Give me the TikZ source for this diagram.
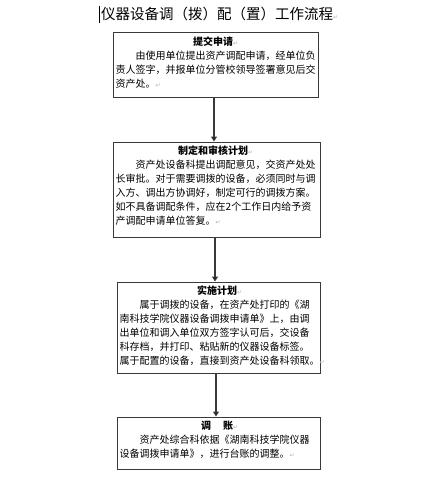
\documentclass[tikz,border=0pt]{standalone}
\usepackage{fontspec}
\setmainfont{Noto Sans CJK SC}
\newfontfamily\symfont{DejaVu Sans}
\usetikzlibrary{arrows.meta}
\newcommand{\rmark}{{\symfont\fontsize{6}{6}\selectfont\color{gray!60}↵}}
\newcommand{\ind}{\hspace*{20pt}}
\begin{document}
\begin{tikzpicture}[x=1pt,y=-1pt,
  box/.style={draw=gray!45!black, line width=1pt, rectangle, inner sep=0pt},
  body/.style={anchor=north west, inner sep=0pt, align=left, text width=200pt,
    font=\fontsize{10}{14}\selectfont},
  flow/.style={draw=gray!45!black, line width=1.2pt, -{Triangle[length=5pt,width=6pt,fill=black]}}
]
\useasboundingbox (0,0) rectangle (436,500);
\fill[white] (0,0) rectangle (436,500);

% title
\node[anchor=west, inner sep=0pt, font=\fontsize{14.5}{16}\selectfont] (title) at (101,14) {仪器设备调（拨）配（置）工作流程\rmark};
\draw[line width=0.8pt] ([xshift=-2pt,yshift=8pt]title.west) -- ([xshift=-2pt,yshift=-9pt]title.west);

% boxes
\node[box, minimum width=205pt, minimum height=65pt] (b1) at (215.5,65.5) {};
\node[box, minimum width=207pt, minimum height=95pt] (b2) at (216.5,189.5) {};
\node[box, minimum width=203pt, minimum height=91pt] (b3) at (218.5,327.5) {};
\node[box, minimum width=203pt, minimum height=52pt] (b4) at (218.5,443) {};

% texts
\node[body] (t1) at ([xshift=3pt,yshift=-4pt]b1.north west) {%
\makebox[200pt][c]{\textbf{提交申请}\rmark}\\
\ind 由使用单位提出资产调配申请，经单位负\\
责人签字，并报单位分管校领导签署意见后交\\
资产处。\rmark};

\node[body] (t2) at ([xshift=3pt,yshift=-4pt]b2.north west) {%
\makebox[200pt][c]{\textbf{制定和审核计划}\rmark}\\
\ind 资产处设备科提出调配意见，交资产处处\\
长审批。对于需要调拨的设备，必须同时与调\\
入方、调出方协调好，制定可行的调拨方案。\\
如不具备调配条件，应在2个工作日内给予资\\
产调配申请单位答复。\rmark};

\node[body] (t3) at ([xshift=3pt,yshift=-4pt]b3.north west) {%
\makebox[200pt][c]{\textbf{实施计划}\rmark}\\
\ind 属于调拨的设备，在资产处打印的《湖\\
南科技学院仪器设备调拨申请单》上，由调\\
出单位和调入单位双方签字认可后，交设备\\
科存档，并打印、粘贴新的仪器设备标签。\\
属于配置的设备，直接到资产处设备科领取。\rmark};

\node[body] (t4) at ([xshift=3pt,yshift=-4pt]b4.north west) {%
\makebox[200pt][c]{\textbf{调\hspace{12pt}账}\rmark}\\
\ind 资产处综合科依据《湖南科技学院仪器\\
设备调拨申请单》，进行台账的调整。\rmark};

% connectors
\draw[flow] ([xshift=-1.5pt]b1.south) -- ([xshift=-1.5pt]b1.south |- b2.north);
\draw[flow] ([xshift=-1.5pt]b2.south) -- ([xshift=-1.5pt]b2.south |- b3.north);
\draw[flow] ([xshift=-2.5pt]b3.south) -- ([xshift=-2.5pt]b3.south |- b4.north);
\end{tikzpicture}
\end{document}
